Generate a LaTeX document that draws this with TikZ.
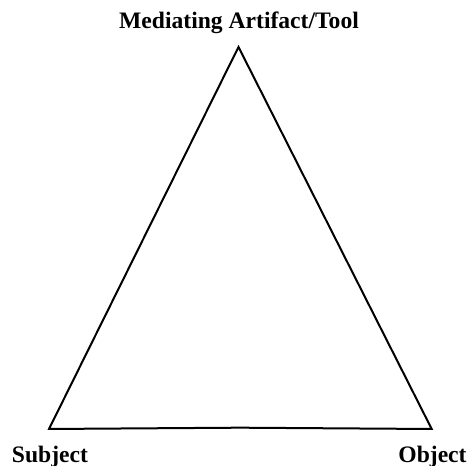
\documentclass[tikz,border=0pt]{standalone}
\usepackage{fontspec}
\setmainfont{Liberation Serif}
\usetikzlibrary{positioning}

\begin{document}
\begin{tikzpicture}[
            x = 0.75pt, y = 0.75pt, % one unit per pixel
            line width = 1.5pt, % line style
            vlabel/.style = {font=\bfseries\fontsize{17.7}{20}\selectfont, inner sep=0pt, anchor=base}
        ]
\useasboundingbox (0,0) rectangle (469,466);

\coordinate (T) at (238.5,419);
\coordinate (S) at (49,37);
\coordinate (O) at (431.7,37);
\coordinate (M) at (240,38.3);

\node[vlabel] (Tl) at (239,437) {Mediating Artifact/Tool};
\node[vlabel] (Sl) at (50,3.3) {Subject};
\node[vlabel] (Ol) at (432.5,3.5) {Object};

\draw (S) -- (T) -- (O) -- (M) -- cycle;
\end{tikzpicture}
\end{document}
